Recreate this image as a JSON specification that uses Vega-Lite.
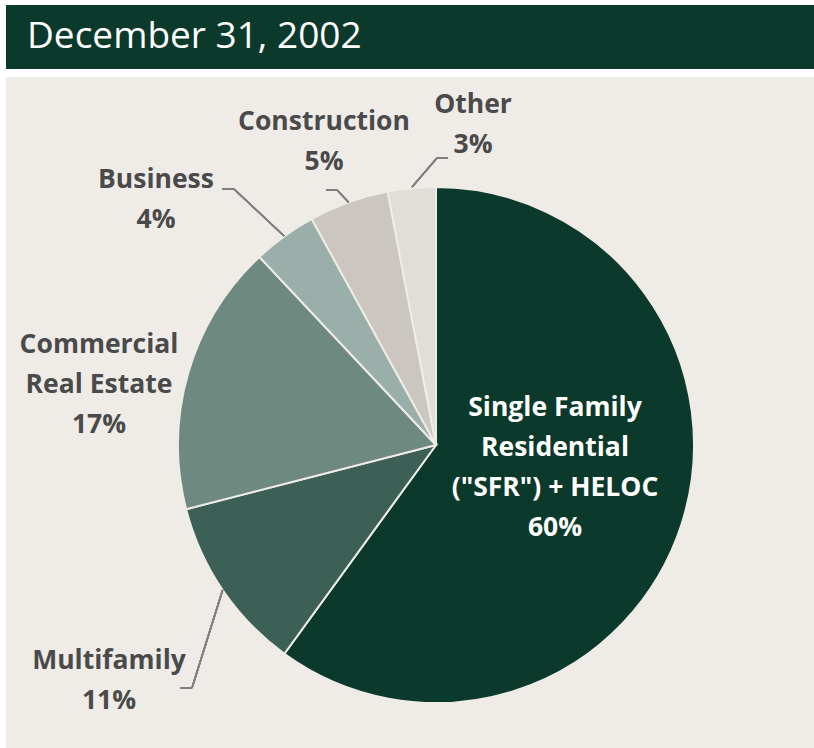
{
  "$schema": "https://vega.github.io/schema/vega-lite/v6.json",
  "background": "#ffffff",
  "padding": {"left": 6, "top": 5, "right": 0, "bottom": 0},
  "spacing": 8,
  "config": {"view": {"stroke": null}, "font": "Open Sans"},
  "datasets": {
    "loans": [
      {"category": "SFR", "label": "Single Family\nResidential\n(\"SFR\") + HELOC\n60%", "value": 60, "rank": 1},
      {"category": "Multifamily", "label": "Multifamily\n11%", "value": 11, "rank": 2},
      {"category": "Commercial Real Estate", "label": "Commercial\nReal Estate\n17%", "value": 17, "rank": 3},
      {"category": "Business", "label": "Business\n4%", "value": 4, "rank": 4},
      {"category": "Construction", "label": "Construction\n5%", "value": 5, "rank": 5},
      {"category": "Other", "label": "Other\n3%", "value": 3, "rank": 6}
    ],
    "header": [{"title": "December 31, 2002"}]
  },
  "vconcat": [
    {
      "width": 808,
      "height": 64,
      "view": {"fill": "#0b3a2c", "stroke": null},
      "data": {"name": "header"},
      "mark": {"type": "text", "align": "left", "baseline": "alphabetic", "fontSize": 37, "font": "Open Sans", "color": "#ffffff"},
      "encoding": {
        "x": {"datum": 0.026, "type": "quantitative", "scale": {"domain": [0, 1], "nice": false, "zero": false}, "axis": null},
        "y": {"datum": 0.33, "type": "quantitative", "scale": {"domain": [0, 1], "nice": false, "zero": false}, "axis": null},
        "text": {"field": "title", "type": "nominal"}
      }
    },
    {
      "width": 808,
      "height": 671,
      "view": {"fill": "#efece8", "stroke": null},
      "data": {"name": "loans"},
      "encoding": {
        "x": {"datum": 0, "type": "quantitative", "scale": {"domain": [-1.6667, 1.4651], "nice": false, "zero": false}, "axis": null},
        "y": {"datum": 0, "type": "quantitative", "scale": {"domain": [-1.1744, 1.4264], "nice": false, "zero": false}, "axis": null}
      },
      "layer": [
        {
          "mark": {"type": "arc", "outerRadius": 258, "stroke": "#efece8", "strokeWidth": 2},
          "encoding": {
            "theta": {"field": "value", "type": "quantitative", "stack": true},
            "order": {"field": "rank", "type": "quantitative", "sort": "ascending"},
            "color": {"field": "category", "type": "nominal", "legend": null,
              "scale": {"domain": ["SFR", "Multifamily", "Commercial Real Estate", "Business", "Construction", "Other"],
                        "range": ["#0b392c", "#3c6055", "#6e8a80", "#9aafa9", "#cbc6c0", "#e1ddd7"]}}
          }
        },
        {"mark": {"type": "rule", "color": "#808080", "strokeWidth": 1.5}, "encoding": {"x": {"datum": -0.0930}, "y": {"datum": 1.0}, "x2": {"datum": 0.0039}, "y2": {"datum": 1.1124}}},
        {"mark": {"type": "rule", "color": "#808080", "strokeWidth": 1.5}, "encoding": {"x": {"datum": 0.0039}, "y": {"datum": 1.1124}, "x2": {"datum": 0.0465}, "y2": {"datum": 1.1124}}},
        {"mark": {"type": "rule", "color": "#808080", "strokeWidth": 1.5}, "encoding": {"x": {"datum": -0.3388}, "y": {"datum": 0.9407}, "x2": {"datum": -0.3837}, "y2": {"datum": 0.9884}}},
        {"mark": {"type": "rule", "color": "#808080", "strokeWidth": 1.5}, "encoding": {"x": {"datum": -0.3837}, "y": {"datum": 0.9884}, "x2": {"datum": -0.4264}, "y2": {"datum": 0.9884}}},
        {"mark": {"type": "rule", "color": "#808080", "strokeWidth": 1.5}, "encoding": {"x": {"datum": -0.5891}, "y": {"datum": 0.8101}, "x2": {"datum": -0.7829}, "y2": {"datum": 0.9922}}},
        {"mark": {"type": "rule", "color": "#808080", "strokeWidth": 1.5}, "encoding": {"x": {"datum": -0.7829}, "y": {"datum": 0.9922}, "x2": {"datum": -0.8295}, "y2": {"datum": 0.9922}}},
        {"mark": {"type": "rule", "color": "#808080", "strokeWidth": 1.5}, "encoding": {"x": {"datum": -0.8271}, "y": {"datum": -0.5620}, "x2": {"datum": -0.9457}, "y2": {"datum": -0.9419}}},
        {"mark": {"type": "rule", "color": "#808080", "strokeWidth": 1.5}, "encoding": {"x": {"datum": -0.9457}, "y": {"datum": -0.9419}, "x2": {"datum": -0.9922}, "y2": {"datum": -0.9419}}},
        {
          "transform": [{"filter": "datum.category === 'SFR'"}],
          "mark": {"type": "text", "align": "center", "baseline": "middle", "lineBreak": "\n", "lineHeight": 40, "fontSize": 26.5, "fontWeight": "bold", "font": "Open Sans", "color": "#ffffff"},
          "encoding": {"x": {"datum": 0.4612}, "y": {"datum": 0.1434}, "text": {"field": "label", "type": "nominal"}}
        },
        {
          "transform": [{"filter": "datum.category === 'Multifamily'"}],
          "mark": {"type": "text", "align": "center", "baseline": "middle", "lineBreak": "\n", "lineHeight": 40, "fontSize": 26.5, "fontWeight": "bold", "font": "Open Sans", "color": "#4a4a4a"},
          "encoding": {"x": {"datum": -1.2674}, "y": {"datum": -0.8372}, "text": {"field": "label", "type": "nominal"}}
        },
        {
          "transform": [{"filter": "datum.category === 'Commercial Real Estate'"}],
          "mark": {"type": "text", "align": "center", "baseline": "middle", "lineBreak": "\n", "lineHeight": 40, "fontSize": 26.5, "fontWeight": "bold", "font": "Open Sans", "color": "#4a4a4a"},
          "encoding": {"x": {"datum": -1.3062}, "y": {"datum": 0.3876}, "text": {"field": "label", "type": "nominal"}}
        },
        {
          "transform": [{"filter": "datum.category === 'Business'"}],
          "mark": {"type": "text", "align": "center", "baseline": "middle", "lineBreak": "\n", "lineHeight": 40, "fontSize": 26.5, "fontWeight": "bold", "font": "Open Sans", "color": "#4a4a4a"},
          "encoding": {"x": {"datum": -1.0853}, "y": {"datum": 1.0271}, "text": {"field": "label", "type": "nominal"}}
        },
        {
          "transform": [{"filter": "datum.category === 'Construction'"}],
          "mark": {"type": "text", "align": "center", "baseline": "middle", "lineBreak": "\n", "lineHeight": 40, "fontSize": 26.5, "fontWeight": "bold", "font": "Open Sans", "color": "#4a4a4a"},
          "encoding": {"x": {"datum": -0.4341}, "y": {"datum": 1.2519}, "text": {"field": "label", "type": "nominal"}}
        },
        {
          "transform": [{"filter": "datum.category === 'Other'"}],
          "mark": {"type": "text", "align": "center", "baseline": "middle", "lineBreak": "\n", "lineHeight": 40, "fontSize": 26.5, "fontWeight": "bold", "font": "Open Sans", "color": "#4a4a4a"},
          "encoding": {"x": {"datum": 0.1434}, "y": {"datum": 1.3178}, "text": {"field": "label", "type": "nominal"}}
        }
      ]
    }
  ]
}
